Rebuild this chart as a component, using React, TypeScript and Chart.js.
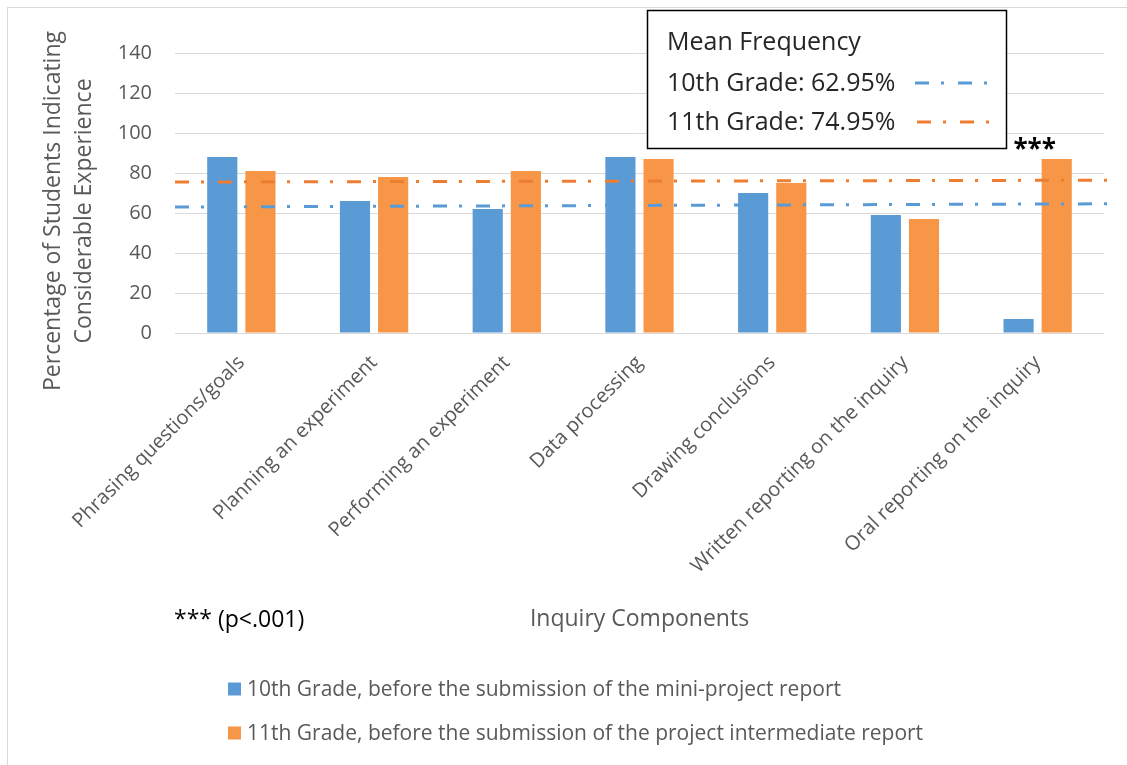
import React, { useEffect, useRef } from "react";
import { Chart, registerables } from "chart.js";

Chart.register(...registerables);

// ---------- data ----------
const categories = [
  "Phrasing questions/goals",
  "Planning an experiment",
  "Performing an experiment",
  "Data processing",
  "Drawing conclusions",
  "Written reporting on the inquiry",
  "Oral reporting on the inquiry",
];
const grade10Values = [88, 66, 62, 88, 70, 59, 7];
const grade11Values = [81, 78, 81, 87, 75, 57, 87];
const seriesLabels = [
  "10th Grade, before the submission of the mini-project report",
  "11th Grade, before the submission of the project intermediate report",
];
// mean frequency lines (value at left edge, value at right edge of the plot)
const mean10Line = [63.0, 64.6];
const mean11Line = [75.5, 76.4];
const meanLabels = ["10th Grade: 62.95%", "11th Grade: 74.95%"];
const meanBoxTitle = "Mean Frequency";
const yAxisTitle = ["Percentage of Students Indicating", "Considerable Experience"];
const xAxisTitle = "Inquiry Components";
const significanceNote = "*** (p<.001)";
const significanceMark = "***";
const significantIndex = 6;
const yMin = 0;
const yMax = 140;
const yStep = 20;

// ---------- style ----------
const BLUE = "#5B9BD5";
const ORANGE = "#F79646";
const ORANGE_LINE = "#ED7D31";
const GREY_TEXT = "#595959";
const GRID = "#D9D9D9";
const FONT = "'Open Sans', 'Noto Sans', sans-serif";
const DASH = [14, 12, 3, 14];

const meanLines = [
  { values: mean10Line, color: BLUE, label: meanLabels[0] },
  { values: mean11Line, color: ORANGE_LINE, label: meanLabels[1] },
];

// mean lines drawn across the plot through the y scale, on top of the bars
const meanLinePlugin = {
  id: "meanLines",
  afterDatasetsDraw(chart: any) {
    const { ctx, chartArea, scales } = chart;
    const ys = scales.y;
    ctx.save();
    ctx.lineWidth = 3;
    ctx.setLineDash(DASH);
    meanLines.forEach((m) => {
      ctx.strokeStyle = m.color;
      ctx.beginPath();
      ctx.moveTo(chartArea.left, ys.getPixelForValue(m.values[0]));
      ctx.lineTo(chartArea.right + 6, ys.getPixelForValue(m.values[1]));
      ctx.stroke();
    });
    ctx.restore();
  },
};

const annotationPlugin = {
  id: "annotations",
  afterDraw(chart: any) {
    const { ctx, chartArea, scales } = chart;
    const xs = scales.x;
    const ys = scales.y;
    ctx.save();

    // outer chart border (partially visible)
    ctx.strokeStyle = GRID;
    ctx.lineWidth = 1;
    ctx.strokeRect(7.5, 7.5, 1200, 800);

    // y-axis title (two lines)
    ctx.fillStyle = GREY_TEXT;
    ctx.font = `23px ${FONT}`;
    ctx.textAlign = "center";
    ctx.textBaseline = "middle";
    const titleCy = 211;
    [53, 84].forEach((x, i) => {
      ctx.save();
      ctx.translate(x, titleCy);
      ctx.rotate(-Math.PI / 2);
      ctx.fillText(yAxisTitle[i], 0, 0);
      ctx.restore();
    });

    // x-axis title
    ctx.fillText(xAxisTitle, (chartArea.left + chartArea.right) / 2, 619);

    // significance note
    ctx.fillStyle = "#000000";
    ctx.textAlign = "left";
    ctx.font = `23px ${FONT}`;
    ctx.fillText(significanceNote, 174, 620);

    // significance mark above last category
    ctx.textAlign = "center";
    ctx.font = `bold 26px ${FONT}`;
    const mx = xs.getPixelForValue(significantIndex) - 3;
    const my = ys.getPixelForValue(grade11Values[significantIndex]) - 8;
    ctx.fillText(significanceMark, mx, my);

    // bottom legend for bars
    const ds = chart.data.datasets;
    ctx.font = `21px ${FONT}`;
    ctx.textAlign = "left";
    [0, 1].forEach((i) => {
      const cy = 689 + i * 44;
      ctx.fillStyle = ds[i].backgroundColor;
      ctx.fillRect(228, cy - 6.5, 13, 13);
      ctx.fillStyle = GREY_TEXT;
      ctx.fillText(ds[i].label, 247, cy + 1);
    });

    // mean frequency box
    ctx.fillStyle = "#FFFFFF";
    ctx.fillRect(647, 10, 360, 139);
    ctx.strokeStyle = "#000000";
    ctx.lineWidth = 1.5;
    ctx.strokeRect(647.5, 10.5, 359, 138);
    ctx.fillStyle = "#262626";
    ctx.font = `25px ${FONT}`;
    ctx.fillText(meanBoxTitle, 667, 43);
    meanLines.forEach((m, i) => {
      const cy = 83 + i * 39;
      ctx.fillStyle = "#262626";
      ctx.fillText(m.label, 667, cy + 1);
      ctx.strokeStyle = m.color;
      ctx.lineWidth = 3;
      ctx.setLineDash(DASH);
      ctx.beginPath();
      ctx.moveTo(915 + i * 2, cy);
      ctx.lineTo(990 + i * 3, cy);
      ctx.stroke();
      ctx.setLineDash([]);
    });

    ctx.restore();
  },
};

export default function App() {
  const canvasRef = useRef<HTMLCanvasElement | null>(null);

  useEffect(() => {
    const canvas = canvasRef.current;
    if (!canvas) return;
    const chart = new Chart(canvas, {
      type: "bar",
      data: {
        labels: categories,
        datasets: [
          {
            label: seriesLabels[0],
            data: grade10Values,
            backgroundColor: BLUE,
            categoryPercentage: 0.575,
            barPercentage: 0.79,
          },
          {
            label: seriesLabels[1],
            data: grade11Values,
            backgroundColor: ORANGE,
            categoryPercentage: 0.575,
            barPercentage: 0.79,
          },
        ],
      },
      options: {
        animation: false,
        responsive: false,
        maintainAspectRatio: false,
        layout: { padding: { top: 53, right: 23, left: 0, bottom: 0 } },
        plugins: {
          legend: { display: false },
          tooltip: { enabled: false },
          title: { display: false },
        },
        scales: {
          x: {
            type: "category",
            position: "bottom",
            grid: { display: false, drawTicks: false },
            border: { display: false },
            ticks: {
              autoSkip: false,
              maxRotation: 45,
              minRotation: 45,
              padding: 18,
              color: GREY_TEXT,
              font: { family: FONT, size: 20 },
            },
            afterFit(scale: any) {
              scale.height = 432;
            },
          },
          y: {
            type: "linear",
            min: yMin,
            max: yMax,
            ticks: {
              stepSize: yStep,
              padding: 23,
              color: GREY_TEXT,
              font: { family: FONT, size: 20 },
            },
            grid: { color: GRID, lineWidth: 1, drawTicks: false },
            border: { display: false },
            afterFit(scale: any) {
              scale.width = 175;
            },
          },
        },
      } as any,
      plugins: [meanLinePlugin, annotationPlugin],
    });
    return () => chart.destroy();
  }, []);

  return (
    <div style={{ position: "fixed", left: 0, top: 0, width: 1127, height: 765, background: "#fff" }}>
      <canvas ref={canvasRef} width={1127} height={765} style={{ width: 1127, height: 765, display: "block" }} />
    </div>
  );
}
